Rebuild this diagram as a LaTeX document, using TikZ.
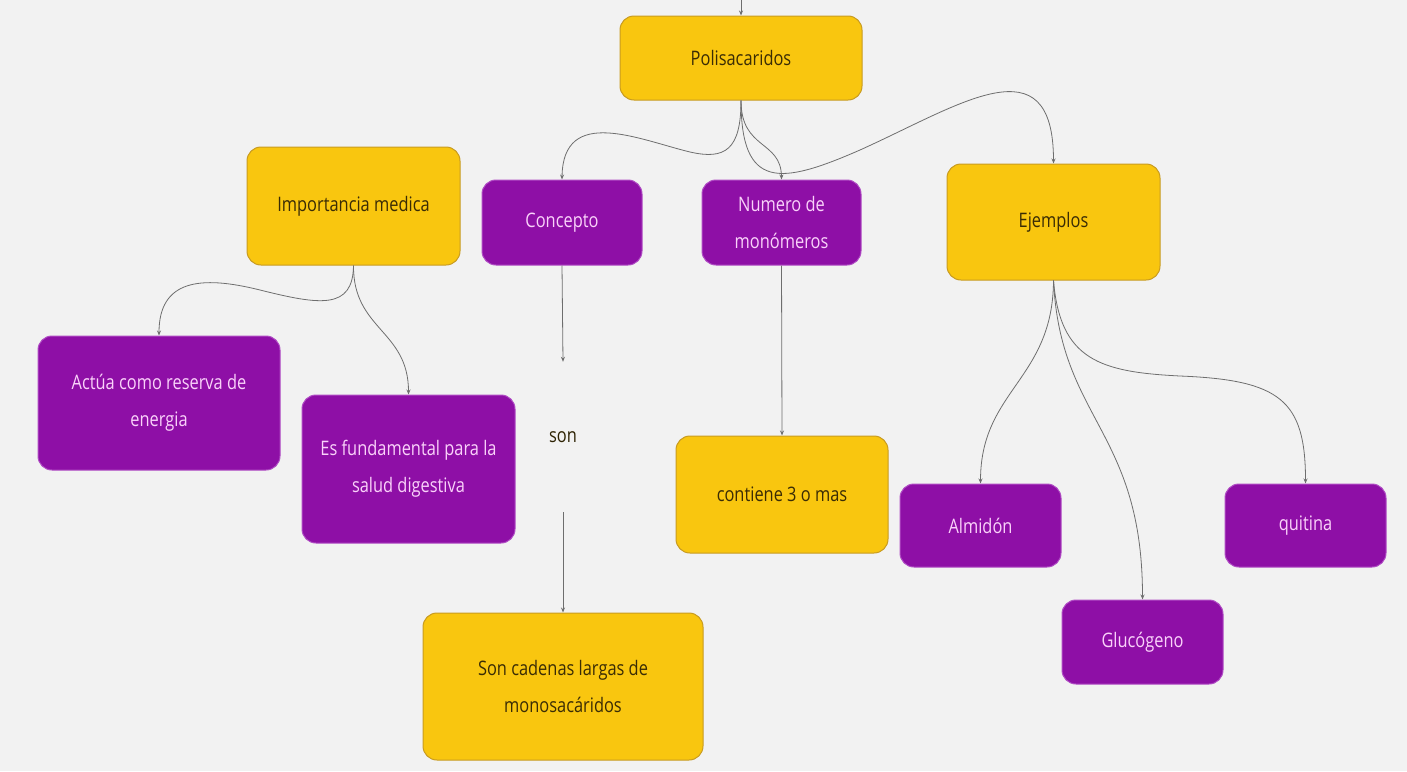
\documentclass[tikz,border=0pt]{standalone}
\usepackage{fontspec}
\setmainfont{Open Sans}[FakeStretch=0.82]
\usetikzlibrary{arrows.meta}
\definecolor{bg}{HTML}{F2F2F2}
\definecolor{yfill}{HTML}{F9C60F}
\definecolor{ybord}{HTML}{C89B20}
\definecolor{ytext}{HTML}{3A2C05}
\definecolor{pfill}{HTML}{8E0FA6}
\definecolor{pbord}{HTML}{B04CC4}
\definecolor{ptext}{HTML}{FAD2FA}
\definecolor{lcol}{HTML}{6E6E6E}
\begin{document}
\begin{tikzpicture}[x=1pt,y=-1pt,
  every node/.style={font=\fontsize{20}{37}\selectfont},
  ybox/.style={draw=ybord, fill=yfill, rounded corners=14pt, text=ytext, align=center, inner sep=0pt, line width=1pt},
  pbox/.style={draw=pbord, fill=pfill, rounded corners=14pt, text=ptext, align=center, inner sep=0pt, line width=1pt},
  conn/.style={draw=lcol, line width=0.8pt, -{Stealth[length=5pt,width=4pt]}}]
\fill[bg] (0,0) rectangle (1407,771);
\useasboundingbox (0,0) rectangle (1407,771);

\node[ybox, minimum width=242pt, minimum height=84pt] (poli) at (741,58) {Polisacaridos};
\node[ybox, minimum width=213pt, minimum height=118pt] (imp) at (353.5,206) {Importancia medica};
\node[pbox, minimum width=160pt, minimum height=85pt] (conc) at (562,222.5) {Concepto};
\node[pbox, minimum width=159pt, minimum height=85pt] (num) at (781.5,222.5) {Numero de\\monómeros};
\node[ybox, minimum width=213pt, minimum height=116pt] (ejem) at (1053.5,222) {Ejemplos};
\node[pbox, minimum width=242pt, minimum height=134pt] (act) at (159,403) {Actúa como reserva de\\energia};
\node[pbox, minimum width=213pt, minimum height=148pt] (esf) at (408.5,469) {Es fundamental para la\\salud digestiva};
\node[text=ytext!80!black, minimum height=150pt, inner sep=0pt] (son) at (563,437) {son};
\node[ybox, minimum width=280pt, minimum height=147pt] (cad) at (563,686.5) {Son cadenas largas de\\monosacáridos};
\node[ybox, minimum width=212pt, minimum height=117pt] (cont) at (782,494.5) {contiene 3 o mas};
\node[pbox, minimum width=161pt, minimum height=83pt] (alm) at (980.5,525.5) {Almidón};
\node[pbox, minimum width=161pt, minimum height=84pt] (glu) at (1142.5,642) {Glucógeno};
\node[pbox, minimum width=161pt, minimum height=83pt] (qui) at (1305.5,525.5) {quitina};

\coordinate (in) at (741,0);
\draw[conn] (in) -- (poli.north);

\draw[conn] (poli.south) .. controls (741,150) and (725,160) .. (690,152)
  .. controls (640,140) and (563,105) .. (conc.north);
\draw[conn] (poli.south) .. controls (741,150) and (781,140) .. (num.north);
\draw[conn] (poli.south) .. controls (741,190) and (780,185) .. (860,150)
  .. controls (960,105) and (1053.5,40) .. (ejem.north);

\draw[conn] (imp.south) .. controls (353,310) and (320,305) .. (260,290)
  .. controls (200,275) and (159,280) .. (act.north);
\draw[conn] (imp.south) .. controls (353,330) and (408.5,330) .. (esf.north);

\draw[conn] (conc.south) -- (son.north);
\draw[conn] (son.south) -- (cad.north);
\draw[conn] (num.south) -- (cont.north);

\draw[conn] (ejem.south) .. controls (1053,380) and (980.5,390) .. (alm.north);
\draw[conn] (ejem.south) .. controls (1060,420) and (1142.5,430) .. (glu.north);
\draw[conn] (ejem.south) .. controls (1060,360) and (1100,372) .. (1180,376)
  .. controls (1280,380) and (1305.5,400) .. (qui.north);
\end{tikzpicture}
\end{document}
